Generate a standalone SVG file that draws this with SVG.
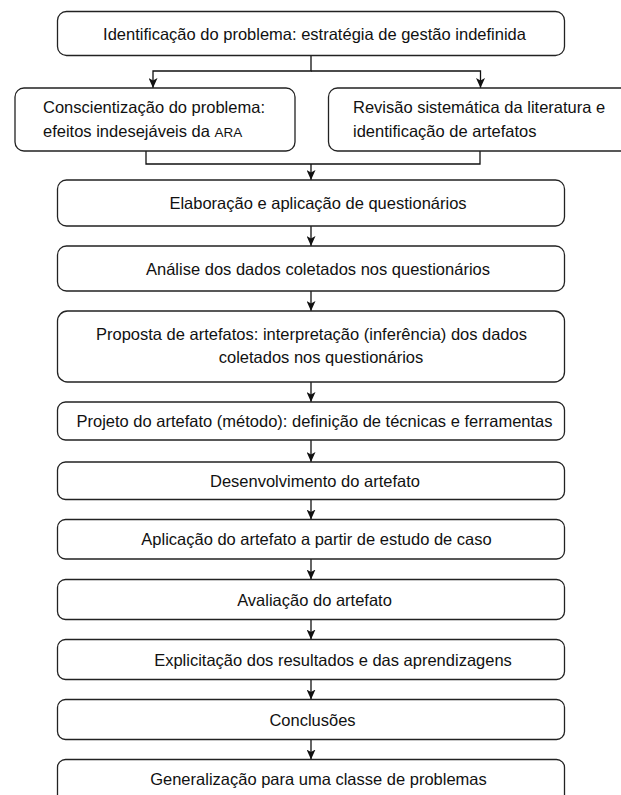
<svg xmlns="http://www.w3.org/2000/svg" width="621" height="795" viewBox="0 0 621 795">
<style>
.box{fill:#fff;stroke:#222;stroke-width:1.3}
.t{font-family:"Liberation Sans",Arial,sans-serif;font-size:16.5px;fill:#111}
.m{text-anchor:middle}
.c{fill:none;stroke:#111;stroke-width:1.3}
.sc{font-size:13.5px}
</style>
<defs>
<marker id="ah" viewBox="0 0 10 9" refX="10" refY="4.5" markerWidth="10" markerHeight="9" markerUnits="userSpaceOnUse" orient="auto">
<path d="M0,0 L10,4.5 L0,9 L2.5,4.5 z" fill="#111"/>
</marker>
</defs>
<rect width="621" height="795" fill="#fff"/>
<g id="connectors">
<path class="c" d="M311,55.5 V71 H153 V88" marker-end="url(#ah)"/>
<path class="c" d="M311,71 H480.5 V88" marker-end="url(#ah)"/>
<path class="c" d="M146,151 V164 H480 V151"/>
<path class="c" d="M311,164 V180" marker-end="url(#ah)"/>
<path class="c" d="M311,226 V246" marker-end="url(#ah)"/>
<path class="c" d="M311,291 V311" marker-end="url(#ah)"/>
<path class="c" d="M311,382 V402" marker-end="url(#ah)"/>
<path class="c" d="M311,440 V462" marker-end="url(#ah)"/>
<path class="c" d="M311,499.5 V519.5" marker-end="url(#ah)"/>
<path class="c" d="M311,559 V579.5" marker-end="url(#ah)"/>
<path class="c" d="M311,619.5 V639.5" marker-end="url(#ah)"/>
<path class="c" d="M311,679.5 V699.5" marker-end="url(#ah)"/>
<path class="c" d="M311,739.5 V759.5" marker-end="url(#ah)"/>
</g>
<g id="n1"><rect class="box" x="57.5" y="11.5" width="507" height="44" rx="9"/><text class="t m" x="314.5" y="39.5">Identificação do problema: estratégia de gestão indefinida</text></g>
<g id="n2"><rect class="box" x="15" y="88" width="280" height="63" rx="9"/><text class="t" x="43" y="113">Conscientização do problema:</text><text class="t" x="43" y="136.5">efeitos indesejáveis da <tspan class="sc">ARA</tspan></text></g>
<g id="n3"><rect class="box" x="328.5" y="88" width="310" height="63" rx="9"/><text class="t" x="353" y="113">Revisão sistemática da literatura e</text><text class="t" x="353" y="136.5">identificação de artefatos</text></g>
<g id="n4"><rect class="box" x="57.5" y="180" width="507" height="46" rx="9"/><text class="t m" x="318" y="209">Elaboração e aplicação de questionários</text></g>
<g id="n5"><rect class="box" x="57.5" y="246" width="507" height="45" rx="9"/><text class="t m" x="318" y="274.5">Análise dos dados coletados nos questionários</text></g>
<g id="n6"><rect class="box" x="57.5" y="311" width="507" height="71" rx="10"/><text class="t m" x="311.5" y="340">Proposta de artefatos: interpretação (inferência) dos dados</text><text class="t m" x="321" y="363">coletados nos questionários</text></g>
<g id="n7"><rect class="box" x="57.5" y="402" width="507" height="38" rx="8"/><text class="t m" x="314.5" y="427">Projeto do artefato (método): definição de técnicas e ferramentas</text></g>
<g id="n8"><rect class="box" x="57.5" y="462" width="507" height="37.5" rx="8"/><text class="t m" x="315" y="486.5">Desenvolvimento do artefato</text></g>
<g id="n9"><rect class="box" x="57.5" y="519.5" width="507" height="39.5" rx="8"/><text class="t m" x="316.5" y="545">Aplicação do artefato a partir de estudo de caso</text></g>
<g id="n10"><rect class="box" x="57.5" y="579.5" width="507" height="40" rx="8"/><text class="t m" x="314.5" y="605.5">Avaliação do artefato</text></g>
<g id="n11"><rect class="box" x="57.5" y="639.5" width="507" height="40" rx="8"/><text class="t m" x="333" y="665.5">Explicitação dos resultados e das aprendizagens</text></g>
<g id="n12"><rect class="box" x="57.5" y="699.5" width="507" height="40" rx="8"/><text class="t m" x="312.5" y="725.5">Conclusões</text></g>
<g id="n13"><rect class="box" x="57.5" y="759.5" width="507" height="46" rx="8"/><text class="t m" x="318.5" y="784.5">Generalização para uma classe de problemas</text></g>
</svg>
